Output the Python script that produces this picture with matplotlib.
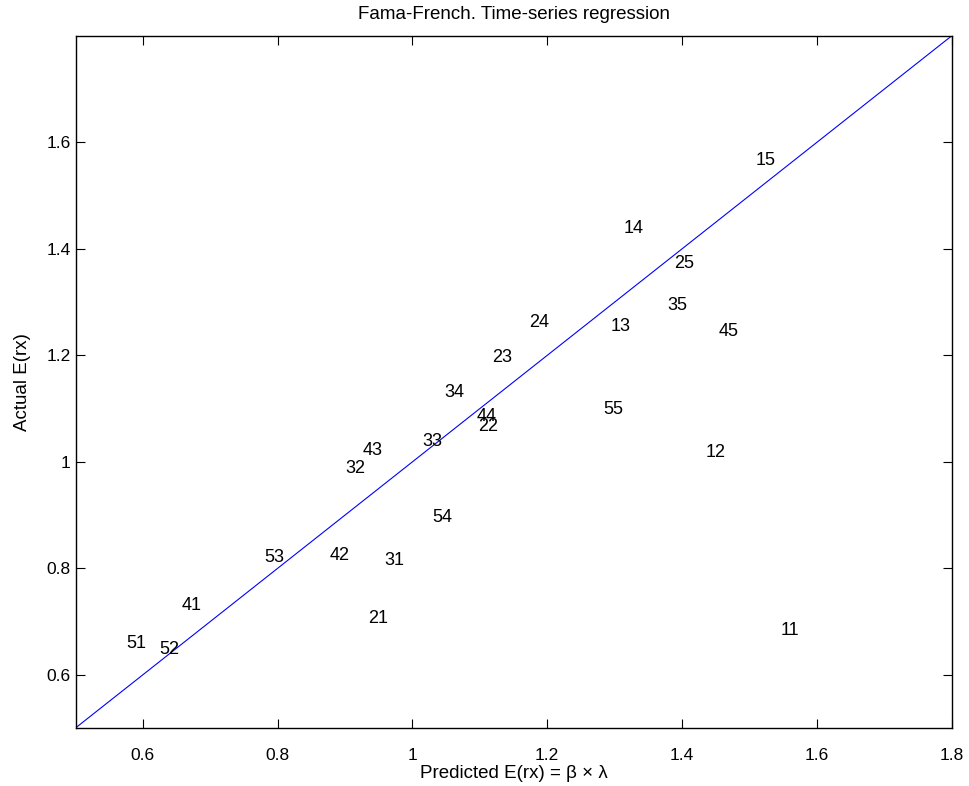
import matplotlib
matplotlib.use("Agg")
import matplotlib.pyplot as plt
from matplotlib.ticker import FuncFormatter

plt.rcParams['font.family'] = ['Liberation Sans', 'DejaVu Sans']

# portfolio labels (size/value quintile) and their positions
names = ['15', '14', '25', '35', '13', '45', '24', '23', '34', '44', '22', '55', '33',
         '43', '32', '12', '54', '53', '42', '31', '41', '21', '11', '51', '52']
predicted = [1.510, 1.314, 1.389, 1.378, 1.294, 1.454, 1.173, 1.119, 1.047, 1.095, 1.097, 1.284, 1.015,
             0.926, 0.901, 1.435, 1.029, 0.780, 0.877, 0.958, 0.658, 0.935, 1.546, 0.576, 0.625]
actual = [1.567, 1.439, 1.373, 1.293, 1.255, 1.245, 1.262, 1.196, 1.130, 1.085, 1.066, 1.099, 1.039,
          1.021, 0.987, 1.017, 0.895, 0.820, 0.824, 0.814, 0.731, 0.705, 0.684, 0.658, 0.647]

xticks = [0.6, 0.8, 1.0, 1.2, 1.4, 1.6, 1.8]
yticks = [0.6, 0.8, 1.0, 1.2, 1.4, 1.6]

fig = plt.figure(figsize=(9.69, 7.86), dpi=100)
ax = fig.add_axes([75.5 / 969, 58 / 786, 876 / 969, 692 / 786])

ax.plot([0.5, 1.8], [0.5, 1.8], color='blue', linewidth=0.8)
for n, px, py in zip(names, predicted, actual):
    ax.text(px, py, n, ha='left', va='center', fontsize=13)

ax.set_xlim(0.5, 1.8)
ax.set_ylim(0.5, 1.8)
ax.set_xticks(xticks)
ax.set_yticks(yticks)
fmt = FuncFormatter(lambda v, p: '%g' % v)
ax.xaxis.set_major_formatter(fmt)
ax.yaxis.set_major_formatter(fmt)
ax.tick_params(direction='in', length=6.5, width=0.8, top=True, right=True,
               labelsize=12.5)
ax.tick_params(axis='x', pad=14.5)
ax.tick_params(axis='y', pad=3.5)
for s in ax.spines.values():
    s.set_linewidth(1.0)

ax.set_title('Fama-French. Time-series regression', fontsize=13.5, pad=12)
ax.set_xlabel('Predicted E(rx) = \u03b2 \u00d7 \u03bb', fontsize=13.5, labelpad=1)
ax.set_ylabel('Actual E(rx)', fontsize=13.5, labelpad=11)

fig.savefig('out.png', dpi=100)
